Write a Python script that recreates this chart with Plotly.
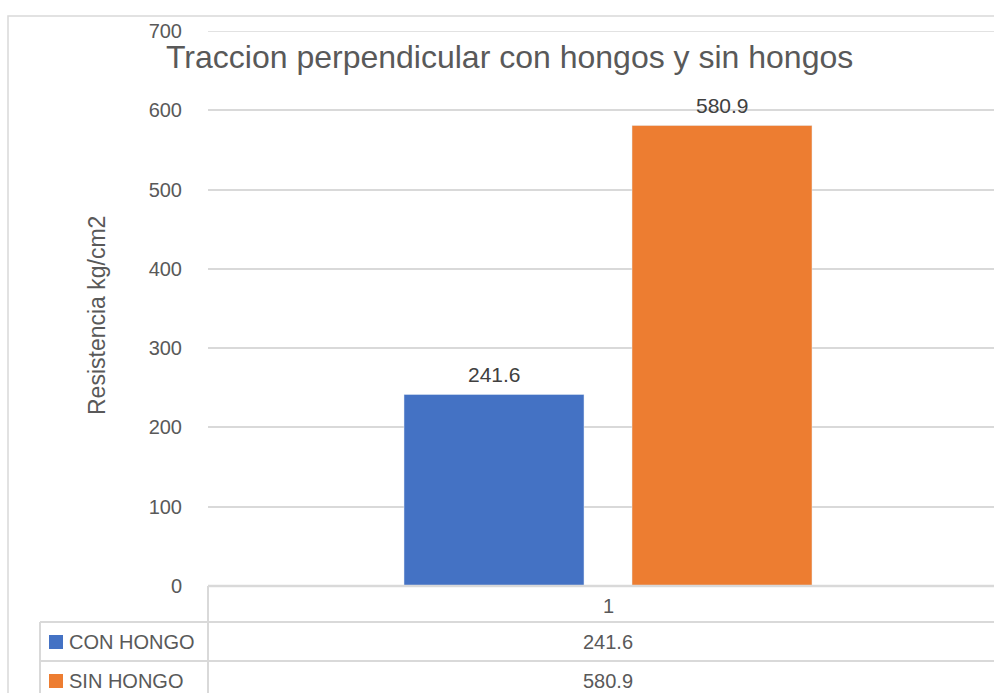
import plotly.graph_objects as go

# Data
categories = ["1"]
series_names = ["CON HONGO", "SIN HONGO"]
con_hongo = [241.6]
sin_hongo = [580.9]
colors = ["#4472C4", "#ED7D31"]
y_ticks = [0, 100, 200, 300, 400, 500, 600, 700]

W, H = 994, 693
L, R, T, B = 208, 0, 31, 107
PW, PH = W - L - R, H - T - B


def px_x(x):
    return (x - L) / PW


def px_y(y):
    return (H - B - y) / PH


grid = "#d9d9d9"
txt = "#595959"
font = "Liberation Sans, Arial, sans-serif"

fig = go.Figure()
values = [con_hongo, sin_hongo]
offsets = [-0.255, 0.03]
for name, vals, col, off in zip(series_names, values, colors, offsets):
    fig.add_trace(go.Bar(
        x=[0] * len(vals), y=vals, name=name, marker_color=col,
        width=0.225, offset=off, showlegend=False,
    ))
    # data label above bar
    for v in vals:
        fig.add_annotation(
            x=off + 0.1125, y=v, xref="x", yref="y", text=f"{v:g}",
            showarrow=False, xanchor="center", yanchor="bottom", yshift=6,
            font=dict(family=font, size=21, color="#404040"),
        )

shapes = []
# top gridline (plotly skips the one on the edge)
shapes.append(dict(type="line", xref="paper", yref="y", x0=0, x1=1,
                   y0=y_ticks[-1], y1=y_ticks[-1], line=dict(color=grid, width=1.5)))
# outer chart border
shapes.append(dict(type="rect", xref="paper", yref="paper",
                   x0=px_x(8), x1=px_x(1010), y0=px_y(720), y1=px_y(16),
                   line=dict(color=grid, width=1.5)))
# data table lines
shapes.append(dict(type="line", xref="paper", yref="paper",
                   x0=px_x(208), x1=px_x(1000), y0=px_y(586), y1=px_y(586),
                   line=dict(color=grid, width=2.5)))
for yy in [622, 661]:
    shapes.append(dict(type="line", xref="paper", yref="paper",
                       x0=px_x(40), x1=px_x(1000), y0=px_y(yy), y1=px_y(yy),
                       line=dict(color=grid, width=2)))
shapes.append(dict(type="line", xref="paper", yref="paper",
                   x0=px_x(208), x1=px_x(208), y0=px_y(586), y1=px_y(700),
                   line=dict(color=grid, width=2)))
shapes.append(dict(type="line", xref="paper", yref="paper",
                   x0=px_x(40), x1=px_x(40), y0=px_y(622), y1=px_y(700),
                   line=dict(color=grid, width=2)))

# table contents
fig.add_annotation(x=0, y=px_y(606), xref="x", yref="paper", text=categories[0],
                   showarrow=False, xanchor="center", yanchor="middle",
                   font=dict(family=font, size=20, color=txt))
row_centers = [642, 681]
for name, vals, col, yc in zip(series_names, values, colors, row_centers):
    shapes.append(dict(type="rect", xref="paper", yref="paper",
                       x0=px_x(49), x1=px_x(63), y0=px_y(yc + 7), y1=px_y(yc - 7),
                       fillcolor=col, line=dict(width=0)))
    fig.add_annotation(x=px_x(67), y=px_y(yc), xref="paper", yref="paper",
                       text=name, showarrow=False, xanchor="left", yanchor="middle",
                       font=dict(family=font, size=20, color=txt))
    fig.add_annotation(x=0, y=px_y(yc), xref="x", yref="paper", text=f"{vals[0]:g}",
                       showarrow=False, xanchor="center", yanchor="middle",
                       font=dict(family=font, size=20, color=txt))

# title
fig.add_annotation(x=px_x(509), y=px_y(57), xref="paper", yref="paper",
                   text="Traccion perpendicular con hongos y sin hongos",
                   showarrow=False, xanchor="center", yanchor="middle",
                   font=dict(family=font, size=32, color=txt))
# y axis title
fig.add_annotation(x=px_x(97), y=px_y(315), xref="paper", yref="paper",
                   text="Resistencia kg/cm2", textangle=-90, showarrow=False,
                   xanchor="center", yanchor="middle",
                   font=dict(family=font, size=23, color=txt))

fig.update_layout(
    width=W, height=H,
    margin=dict(l=L, r=R, t=T, b=B),
    plot_bgcolor="white", paper_bgcolor="white",
    shapes=shapes,
    showlegend=False,
)
fig.update_xaxes(range=[-0.5, 0.4825], showticklabels=False, showgrid=False,
                 zeroline=False, showline=False)
fig.update_yaxes(range=[0, 700], tickvals=y_ticks, showgrid=True, gridcolor=grid,
                 gridwidth=1.5, zeroline=False, showline=False,
                 ticklabelstandoff=25,
                 tickfont=dict(family=font, size=20, color=txt))

fig.write_html("out.html", config={"displayModeBar": False},
               post_script="document.body.style.margin='0';")
